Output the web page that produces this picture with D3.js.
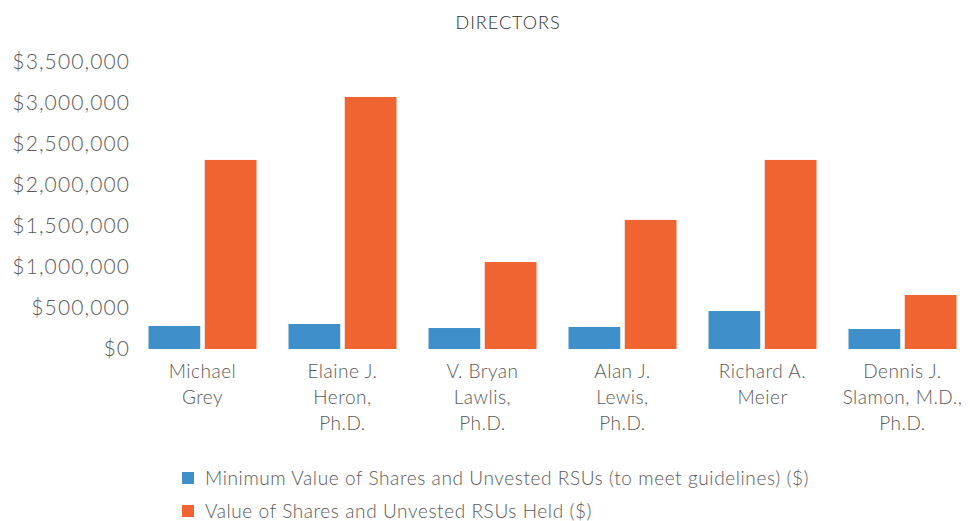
<!DOCTYPE html>
<html>
<head>
<meta charset="utf-8">
<script src="https://cdn.jsdelivr.net/npm/d3@7"></script>
<style>
  body { margin: 0; background: #fff; }
  text { font-family: "Lato", "Open Sans", sans-serif; font-weight: 300; }
</style>
</head>
<body>
<div id="chart"></div>
<script>
// directors and their values
const directors = [
    ["Michael", "Grey"],
    ["Elaine J.", "Heron,", "Ph.D."],
    ["V. Bryan", "Lawlis,", "Ph.D."],
    ["Alan J.", "Lewis,", "Ph.D."],
    ["Richard A.", "Meier"],
    ["Dennis J.", "Slamon, M.D.,", "Ph.D."]
];
const minimumValue = [280000, 304000, 255000, 268000, 462000, 243000];
const heldValue = [2300000, 3066000, 1058000, 1570000, 2300000, 657000];
const seriesNames = [
    "Minimum Value of Shares and Unvested RSUs (to meet guidelines) ($)",
    "Value of Shares and Unvested RSUs Held ($)"
];
const yTicks = [0, 500000, 1000000, 1500000, 2000000, 2500000, 3000000, 3500000];

const colors = ["#3e8fca", "#f06431"];
const width = 970, height = 521;

const svg = d3.select("#chart").append("svg")
    .attr("width", width)
    .attr("height", height);

// title
svg.append("text")
    .attr("x", 508)
    .attr("y", 29)
    .attr("text-anchor", "middle")
    .attr("fill", "#2e2e2e")
    .style("font-size", "18px")
    .style("font-weight", "300")
    .style("letter-spacing", "1px")
    .text("DIRECTORS");

// scales
let x = d3.scaleBand()
    .domain(d3.range(directors.length))
    .range([132.5, 972.5]);

let xSub = d3.scaleBand()
    .domain([0, 1])
    .range([16, 124])
    .paddingInner(0.08);

let y = d3.scaleLinear()
    .domain([0, 3500000])
    .range([349, 61.3]);

// y axis
let yAxis = d3.axisLeft(y)
    .tickValues(yTicks)
    .tickSize(0)
    .tickPadding(0)
    .tickFormat(d => "$" + d3.format(",")(d));

let yG = svg.append("g")
    .attr("transform", "translate(130,0)")
    .call(yAxis);
yG.select(".domain").remove();
yG.selectAll("text")
    .attr("fill", "#595959")
    .style("font-size", "21px")
    .style("letter-spacing", "1.1px");

// bars
let rows = directors.map((d, i) => [minimumValue[i], heldValue[i]]);

let groups = svg.selectAll(".group")
    .data(rows)
    .enter().append("g")
    .attr("class", "group")
    .attr("transform", (d, i) => "translate(" + x(i) + ",0)");

groups.selectAll("rect")
    .data(d => d)
    .enter().append("rect")
    .attr("x", (d, j) => xSub(j))
    .attr("width", xSub.bandwidth())
    .attr("y", d => y(d))
    .attr("height", d => y(0) - y(d))
    .attr("fill", (d, j) => colors[j]);

// category labels
let labels = svg.selectAll(".cat")
    .data(directors)
    .enter().append("text")
    .attr("class", "cat")
    .attr("text-anchor", "middle")
    .attr("fill", "#595959")
    .style("font-size", "19px")
    .style("letter-spacing", "0.5px");

labels.selectAll("tspan")
    .data((d, i) => d.map(t => ({t: t, i: i})))
    .enter().append("tspan")
    .attr("x", d => x(d.i) + x.bandwidth() / 2)
    .attr("y", (d, k) => 378 + k * 26)
    .text(d => d.t);

// legend
let legend = svg.selectAll(".legend")
    .data(seriesNames)
    .enter().append("g")
    .attr("class", "legend")
    .attr("transform", (d, i) => "translate(182," + (478 + i * 33) + ")");

legend.append("rect")
    .attr("x", 0)
    .attr("y", -6)
    .attr("width", 12)
    .attr("height", 12)
    .attr("fill", (d, i) => colors[i]);

legend.append("text")
    .attr("x", 23)
    .attr("y", 7)
    .attr("fill", "#595959")
    .style("font-size", "19px")
    .style("letter-spacing", "0.6px")
    .text(d => d);
</script>
</body>
</html>
